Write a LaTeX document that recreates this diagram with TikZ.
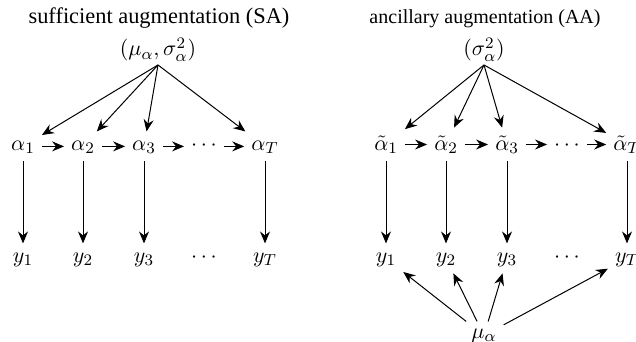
\documentclass[tikz,border=0pt]{standalone}
\usepackage{fontspec}
\newfontfamily\titlefont{Liberation Serif}
\usetikzlibrary{arrows.meta}

\tikzset{
  var/.style={anchor=base, text height=5.7pt, text depth=2.1pt},
  tvar/.style={anchor=base, text height=7.6pt, text depth=2.1pt},
}

\begin{document}
\begin{tikzpicture}[x=0.5pt, y=-0.5pt, >={Stealth[length=6pt, width=5pt, inset=2pt]}, line width=0.5pt, font=\fontsize{11}{13}\selectfont]
    \useasboundingbox (0,0) rectangle (636,342);
    % Sufficient augmentation
    \node[anchor=base] (titleSA) at (159,24) {\titlefont\fontsize{11.2}{13}\selectfont sufficient augmentation (SA)};
    \node[anchor=base, inner sep=1.5pt] (hypSA) at (158,56) {$(\mu_\alpha,\sigma^2_\alpha)$};
    \node[var] (a1) at (23,150) {$\alpha_1$};
    \node[var] (a2) at (83,150) {$\alpha_2$};
    \node[var] (a3) at (144,150) {$\alpha_3$};
    \node[var] (ad) at (204,150) {$\cdots$};
    \node[var] (aT) at (265,150) {$\alpha_T$};
    \node[var] (y1) at (23,262) {$y_1$};
    \node[var] (y2) at (83,262) {$y_2$};
    \node[var] (y3) at (144,262) {$y_3$};
    \node[var] (yd) at (204,262) {$\cdots$};
    \node[var] (yT) at (265,262) {$y_T$};
    % Parameter arrows
    \draw[->] (hypSA.south) -- (a1);
    \draw[->] (hypSA.south) -- (a2);
    \draw[->] (hypSA.south) -- (a3);
    \draw[->] (hypSA.south) -- (aT);
    % State chain
    \draw[->] (a1) -- (a2);
    \draw[->] (a2) -- (a3);
    \draw[->] (a3) -- (ad);
    \draw[->] (ad) -- (aT);
    % Observation arrows
    \draw[->] (a1) -- (y1);
    \draw[->] (a2) -- (y2);
    \draw[->] (a3) -- (y3);
    \draw[->] (aT) -- (yT);

    % Ancillary augmentation
    \node[anchor=base] (titleAA) at (485,24) {\titlefont\fontsize{10}{12}\selectfont ancillary augmentation (AA)};
    \node[anchor=base, inner sep=1.5pt] (hypAA) at (484,56) {$(\sigma^2_\alpha)$};
    \node[tvar] (b1) at (386,150) {$\tilde\alpha_1$};
    \node[tvar] (b2) at (446,150) {$\tilde\alpha_2$};
    \node[tvar] (b3) at (507,150) {$\tilde\alpha_3$};
    \node[tvar] (bd) at (567,150) {$\cdots$};
    \node[tvar] (bT) at (627,150) {$\tilde\alpha_T$};
    \node[var] (z1) at (386,262) {$y_1$};
    \node[var] (z2) at (446,262) {$y_2$};
    \node[var] (z3) at (507,262) {$y_3$};
    \node[var] (zd) at (567,262) {$\cdots$};
    \node[var] (zT) at (627,262) {$y_T$};
    \node[anchor=base] (mu) at (484,338) {$\mu_\alpha$};
    % Parameter arrows
    \draw[->] (hypAA.south) -- (b1);
    \draw[->] (hypAA.south) -- (b2);
    \draw[->] (hypAA.south) -- (b3);
    \draw[->] (hypAA.south) -- (bT);
    % State chain
    \draw[->] (b1) -- (b2);
    \draw[->] (b2) -- (b3);
    \draw[->] (b3) -- (bd);
    \draw[->] (bd) -- (bT);
    % Observation arrows
    \draw[->] (b1) -- (z1);
    \draw[->] (b2) -- (z2);
    \draw[->] (b3) -- (z3);
    \draw[->] (bT) -- (zT);
    % Mean arrows
    \draw[->] (mu) -- (z1);
    \draw[->] (mu) -- (z2);
    \draw[->] (mu) -- (z3);
    \draw[->] (mu) -- (zT);
\end{tikzpicture}
\end{document}
